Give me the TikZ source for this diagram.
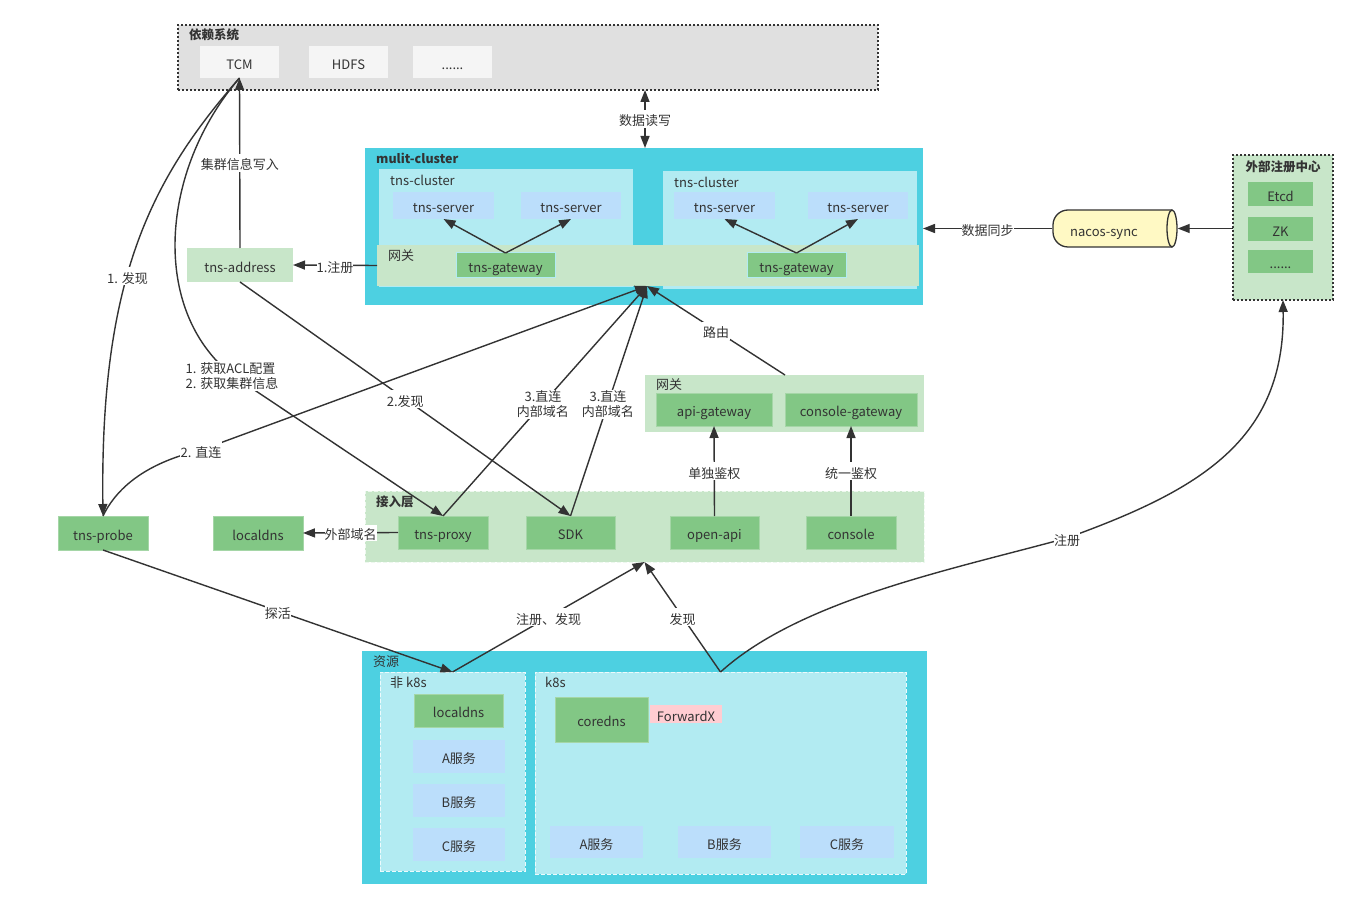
\documentclass[tikz,border=0pt]{standalone}
\usepackage{fontspec}
\setmainfont{Noto Sans CJK SC}
\usetikzlibrary{arrows.meta}
\definecolor{ink}{HTML}{333333}
\definecolor{depgray}{HTML}{E0E0E0}
\definecolor{depitem}{HTML}{F5F5F5}
\definecolor{cyanA}{HTML}{4DD0E1}
\definecolor{cyanB}{HTML}{B2EBF2}
\definecolor{blueS}{HTML}{BBDEFB}
\definecolor{greenL}{HTML}{C8E6C9}
\definecolor{greenD}{HTML}{82C785}
\definecolor{greenBd}{HTML}{A5D6A7}
\definecolor{yel}{HTML}{FFF9C4}
\definecolor{pinkF}{HTML}{FFCDD2}
\begin{document}
\begin{tikzpicture}[x=1pt,y=-1pt,
  every node/.style={text=ink,font=\fontsize{13}{15.5}\selectfont},
  rect/.style={anchor=north west,inner sep=0pt,outer sep=0pt,draw=none,text height=16pt,text depth=1.5pt},
  grp/.style={anchor=north west,inner sep=0pt,outer sep=0pt,draw=none},
  gnode/.style={rect,fill=greenD,draw=greenBd,line width=0.8pt},
  snode/.style={rect,fill=blueS},
  ttl/.style={anchor=west,inner sep=0pt,font=\bfseries\fontsize{12.5}{15}\selectfont},
  sub/.style={anchor=west,inner sep=0pt},
  conn/.style={draw=ink,line width=1.4pt,-{Triangle[length=12pt,width=9pt]}},
  plain/.style={draw=ink,line width=1.4pt},
  lbl/.style={fill=white,inner sep=1pt,text=ink,text height=15pt,text depth=1pt},
  lblm/.style={fill=white,inner sep=1pt,text=ink,yshift=-1pt},
  dotb/.style={draw=ink,line width=1.6pt,dash pattern=on 2pt off 2pt},
  dashw/.style={draw=white!70!greenL,line width=1pt,dash pattern=on 4pt off 2pt},
]
\useasboundingbox[fill=white] (0,0) rectangle (1357,909);

% ---------- dependency systems
\node[grp,fill=depgray,dotb,minimum width=700,minimum height=65] (dep) at (178,25) {};
\node[ttl] (deplbl) at (189,34.5) {依赖系统};
\node[rect,fill=depitem,minimum width=79,minimum height=32] (tcm) at (200,46) {TCM};
\node[rect,fill=depitem,minimum width=79,minimum height=32] (hdfs) at (309,46) {HDFS};
\node[rect,fill=depitem,minimum width=79,minimum height=32] (depmore) at (413,46) {......};

% ---------- multi-cluster
\node[grp,fill=cyanA,minimum width=558,minimum height=157] (mc) at (365,148) {};
\node[ttl] (mclbl) at (376,158.5) {mulit-cluster};
\node[grp,fill=cyanB,minimum width=254,minimum height=118] (cl1) at (379,169) {};
\node[grp,fill=cyanB,minimum width=254,minimum height=118] (cl2) at (663,171) {};
\node[sub] (cl1lbl) at (390,180) {tns-cluster};
\node[sub] (cl2lbl) at (674,182) {tns-cluster};
\node[snode,minimum width=101,minimum height=27] (srv1) at (393,192) {tns-server};
\node[snode,minimum width=100,minimum height=27] (srv2) at (521,192) {tns-server};
\node[snode,minimum width=101,minimum height=27] (srv3) at (674,192) {tns-server};
\node[snode,minimum width=100,minimum height=27] (srv4) at (808,192) {tns-server};
\node[grp,fill=greenL,minimum width=542,minimum height=41] (gwband) at (377,245) {};
\node[sub] (gwlbl) at (388,256) {网关};
\node[rect,fill=greenD,draw=cyanB,line width=1pt,minimum width=99,minimum height=25] (gw1) at (456,253) {tns-gateway};
\node[rect,fill=greenD,draw=cyanB,line width=1pt,minimum width=99,minimum height=25] (gw2) at (747,253) {tns-gateway};
\draw[conn] (gw1.north) -- (srv1.south);
\draw[conn] (gw1.north) -- (srv2.south);
\draw[conn] (gw2.north) -- (srv3.south);
\draw[conn] (gw2.north) -- (srv4.south);
\coordinate (gwin) at (647,286);

% ---------- data read/write
\coordinate (rwtop) at (645,90);
\coordinate (rwbot) at (645,148);
\draw[plain,{Triangle[length=12pt,width=9pt]}-{Triangle[length=12pt,width=9pt]}] (rwtop) -- node[lbl] (rwl) {数据读写} (rwbot);

% ---------- tns-address
\node[rect,fill=greenL,minimum width=106,minimum height=34] (addr) at (187,248) {tns-address};
\draw[conn] (gwband.west) -- node[lbl,inner sep=0pt] (regl) {1.注册} (addr.east);
\draw[conn] (addr.north) -- node[lbl] (wrl) {集群信息写入} (tcm.south);

% ---------- external registry & nacos-sync
\node[grp,fill=greenL,dotb,minimum width=100,minimum height=145] (reg) at (1233,155) {};
\node[anchor=center,inner sep=0pt,font=\bfseries\fontsize{12.5}{15}\selectfont] (reglbl) at (1283,166.5) {外部注册中心};
\node[rect,fill=greenD,minimum width=65,minimum height=24] (etcd) at (1248,182) {Etcd};
\node[rect,fill=greenD,minimum width=65,minimum height=24] (zk) at (1248,217) {ZK};
\node[rect,fill=greenD,minimum width=65,minimum height=23] (regmore) at (1248,250) {......};

\draw[draw=ink,line width=1.3pt,fill=yel,rounded corners=15pt] (1172,210) -- (1053,210) -- (1053,247) -- (1172,247);
\draw[draw=ink,line width=1.3pt,fill=yel] (1172,228.5) ellipse (5 and 18.5);
\node[inner sep=0pt,minimum width=125,minimum height=37] (nacos) at (1115,228.5) {};
\node[inner sep=0pt,text height=16pt,text depth=1.5pt] (nacostxt) at (1104,229) {nacos-sync};
\draw[conn] (reg.west |- nacos.east) -- (nacos.east);
\draw[conn] (nacos.west) -- node[lbl,inner sep=0pt] (syncl) {数据同步} (nacos.west -| mc.east);

% ---------- gateway group
\node[grp,fill=greenL,minimum width=279,minimum height=57] (gwg) at (645,375) {};
\node[sub] (gwglbl) at (656,385) {网关};
\node[gnode,minimum width=116,minimum height=33] (apigw) at (656,393) {api-gateway};
\node[gnode,minimum width=132,minimum height=33] (consgw) at (785,393) {console-gateway};
\draw[conn] (gwg.north -| consgw.west) -- node[lbl] (routel) {路由} (gwin);

% ---------- access layer
\node[grp,fill=greenL,dashw,minimum width=559,minimum height=71] (acc) at (365,491) {};
\node[ttl] (acclbl) at (376,501.5) {接入层};
\node[gnode,minimum width=90,minimum height=33] (proxy) at (398,516) {tns-proxy};
\node[gnode,minimum width=89,minimum height=33] (sdk) at (526,516) {SDK};
\node[gnode,minimum width=89,minimum height=33] (openapi) at (670,516) {open-api};
\node[gnode,minimum width=90,minimum height=33] (console) at (806,516) {console};
\draw[conn] (openapi.north) -- node[lbl] (auth1) {单独鉴权} (apigw.south);
\draw[conn] (console.north) -- node[lbl] (auth2) {统一鉴权} (consgw.south);

\node[gnode,minimum width=90,minimum height=34] (probe) at (58,516) {tns-probe};
\node[gnode,minimum width=90,minimum height=34] (ldns) at (213,516) {localdns};
\draw[conn] (proxy.west) -- node[lbl,inner sep=0pt] (extl) {外部域名} (ldns.east);

% ---------- curves from TCM
\draw[conn] (tcm.south) .. controls (150,180) and (100,280) .. node[lbl,pos=0.57] (disc1) {1. 发现} (probe.north);
\draw[conn] (tcm.south) .. controls (160,170) and (150,310) .. (232,375) node[lblm,align=left] (acl) {1. 获取ACL配置\\2. 获取集群信息} -- (proxy.north);
\draw[conn] (addr.south) -- node[lbl,pos=0.5] (disc2) {2.发现} (sdk.north);
\draw[conn] (probe.north) .. controls (118,485) and (150,462) .. (201,450) node[lbl] (direct2) {2. 直连} -- (gwin);
\draw[conn] (proxy.north) -- node[lblm,align=center,pos=0.49] (d3a) {3.直连\\内部域名} (gwin);
\draw[conn] (sdk.north) -- node[lblm,align=center,pos=0.49] (d3b) {3.直连\\内部域名} (gwin);

% ---------- resources
\node[grp,fill=cyanA,minimum width=565,minimum height=233] (res) at (362,651) {};
\node[sub] (reslbl) at (373,661.5) {资源};
\node[grp,fill=cyanB,draw=white!75!cyanB,line width=1pt,dash pattern=on 4pt off 2pt,minimum width=145,minimum height=199] (nk8s) at (380,672) {};
\node[sub] (nk8slbl) at (390,682.5) {非 k8s};
\node[gnode,minimum width=89,minimum height=33] (ldns2) at (414,694) {localdns};
\node[snode,minimum width=92,minimum height=33] (sa1) at (413,740) {A服务};
\node[snode,minimum width=92,minimum height=33] (sb1) at (413,784) {B服务};
\node[snode,minimum width=92,minimum height=33] (sc1) at (413,828) {C服务};
\node[grp,fill=cyanB,draw=white!75!cyanB,line width=1pt,dash pattern=on 4pt off 2pt,minimum width=371,minimum height=202] (k8s) at (535,672) {};
\node[sub] (k8slbl) at (545,682.5) {k8s};
\node[gnode,minimum width=93,minimum height=45] (coredns) at (555,697) {coredns};
\node[rect,fill=pinkF,minimum width=72,minimum height=18] (fwd) at (650,705) {ForwardX};
\node[snode,minimum width=93,minimum height=32] (sa2) at (550,826) {A服务};
\node[snode,minimum width=93,minimum height=32] (sb2) at (678,826) {B服务};
\node[snode,minimum width=94,minimum height=32] (sc2) at (800,826) {C服务};

\draw[conn] (probe.south) -- node[lbl,inner sep=0pt] (probel) {探活} (nk8s.north);
\draw[conn] (nk8s.north) -- node[lbl] (regdisc) {注册、发现} (acc.south);
\draw[conn] (k8s.north) -- node[lbl] (disc3) {发现} (acc.south);
\draw[conn] (k8s.north) .. controls (800,600) and (950,570) .. (1067,538) node[lbl,inner sep=0pt] (regl2) {注册} .. controls (1200,490) and (1285,440) .. (reg.south);
\end{tikzpicture}
\end{document}
